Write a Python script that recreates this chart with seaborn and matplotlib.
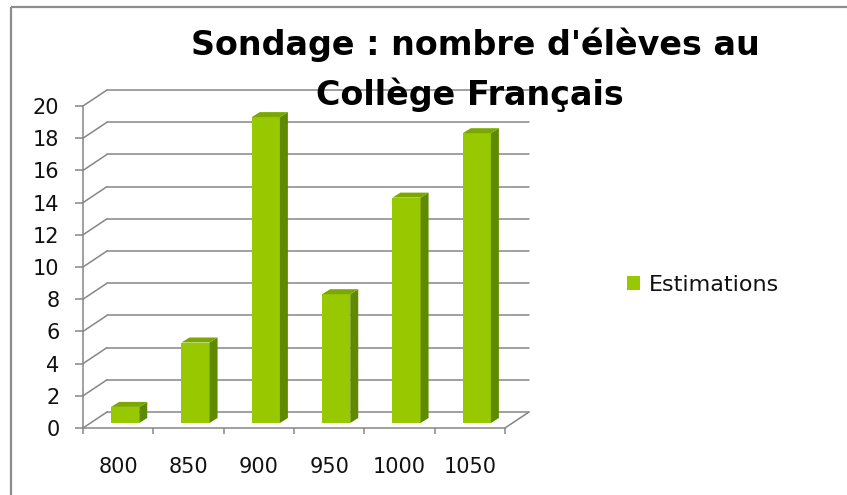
import numpy as np
import matplotlib
matplotlib.use("Agg")
import matplotlib.pyplot as plt
import seaborn as sns
from matplotlib.lines import Line2D
from matplotlib.patches import Polygon
from matplotlib.transforms import IdentityTransform, ScaledTranslation

# data
categories = ['800', '850', '900', '950', '1000', '1050']
estimations = [1, 5, 19, 8, 14, 18]
y_ticks = list(range(0, 21, 2))
title_lines = ["Sondage : nombre d'élèves au", "Collège Français"]

front_col = '#97C800'
side_col = '#5F8A00'
top_col = '#7BA800'
grid_col = '#868686'

sns.set_theme(style='white')
plt.rcParams['font.family'] = ['DejaVu Sans']

W, H, DPI = 847, 495, 100
fig = plt.figure(figsize=(W / DPI, H / DPI), dpi=DPI)
fig.patch.set_facecolor('white')
ax = fig.add_axes([83 / W, 67 / H, 422 / W, 322 / H])
ax.patch.set_alpha(0)

sns.barplot(x=categories, y=estimations, color=front_col, saturation=1,
            width=0.4, label='Estimations', ax=ax, zorder=3)
n = len(categories)
ax.set_xlim(-0.5, n - 0.5)
ax.set_ylim(0, 20)
ax.set_yticks(y_ticks)
ax.set_xticks(np.arange(-0.5, n), minor=True)
ax.set_xlabel('')
ax.set_ylabel('')

sns.despine(ax=ax)
for s in ['left', 'bottom']:
    ax.spines[s].set_color(grid_col)
    ax.spines[s].set_linewidth(1.1)

ax.tick_params(axis='y', left=True, length=6, width=1.1, color=grid_col,
               labelsize=15, pad=11, labelcolor='#111111')
ax.tick_params(axis='x', which='major', bottom=True, length=0,
               labelsize=15, pad=21, labelcolor='#111111')
ax.tick_params(axis='x', which='minor', bottom=True, length=4.5, width=1.1,
               color=grid_col)

# 3D look: back wall and floor offsets in pixels
back_dx, back_dy = 24, 16
bar_dx, bar_dy = 7, 5
depth_dx, depth_dy = 8, 5
ident = IdentityTransform()


def px(x, y):
    return ax.transData.transform((x, y))


for v in y_ticks:
    x0, y0 = px(-0.5, v)
    x1, _ = px(n - 0.5, v)
    ax.add_line(Line2D([x0 + back_dx, x1 + back_dx], [y0 + back_dy, y0 + back_dy],
                       transform=ident, color=grid_col, lw=1.1, clip_on=False, zorder=1))
    ax.add_line(Line2D([x0, x0 + back_dx], [y0, y0 + back_dy],
                       transform=ident, color=grid_col, lw=1.1, clip_on=False, zorder=1))

x0, y0 = px(-0.5, 0)
x1, _ = px(n - 0.5, 0)
ax.add_line(Line2D([x1, x1 + back_dx], [y0, y0 + back_dy], transform=ident,
                   color=grid_col, lw=1.1, clip_on=False, zorder=1))

shift = ax.transData + ScaledTranslation(bar_dx / DPI, bar_dy / DPI, fig.dpi_scale_trans)
for p in list(ax.patches):
    p.set_transform(shift)
    p.set_edgecolor('none')
    xl, yb = px(p.get_x(), 0)
    xr, yt = px(p.get_x() + p.get_width(), p.get_height())
    xl, xr = xl + bar_dx, xr + bar_dx
    yb, yt = yb + bar_dy, yt + bar_dy
    side = Polygon([(xr, yb), (xr + depth_dx, yb + depth_dy),
                    (xr + depth_dx, yt + depth_dy), (xr, yt)],
                   closed=True, transform=ident, facecolor=side_col,
                   edgecolor='none', clip_on=False, zorder=3)
    top = Polygon([(xl, yt), (xr, yt), (xr + depth_dx, yt + depth_dy),
                   (xl + depth_dx, yt + depth_dy)],
                  closed=True, transform=ident, facecolor=top_col,
                  edgecolor='none', clip_on=False, zorder=3)
    ax.add_patch(side)
    ax.add_patch(top)

ax.set_xlim(-0.5, n - 0.5)
ax.set_ylim(0, 20)

leg = ax.legend(loc='center left', bbox_to_anchor=(627 / W, 210 / H),
                bbox_transform=fig.transFigure, frameon=False, fontsize=16,
                handlelength=0.6, handleheight=0.6, handletextpad=0.4,
                borderpad=0, borderaxespad=0)
for t in leg.get_texts():
    t.set_color('#111111')

fig.text(475 / W, (H - 45) / H, title_lines[0], ha='center', va='center',
         fontsize=24, fontweight='bold', color='black', zorder=5)
fig.text(470 / W, (H - 95) / H, title_lines[1], ha='center', va='center',
         fontsize=24, fontweight='bold', color='black', zorder=5)

# outer frame (top and left edges visible)
fig.add_artist(Line2D([10.5 / W, 1], [(H - 6.5) / H] * 2, transform=fig.transFigure,
                      color='#8C8C8C', lw=1.6, solid_capstyle='butt'))
fig.add_artist(Line2D([10.5 / W] * 2, [0, (H - 6.5) / H], transform=fig.transFigure,
                      color='#8C8C8C', lw=1.6, solid_capstyle='butt'))

fig.savefig('out.png', dpi=DPI)
